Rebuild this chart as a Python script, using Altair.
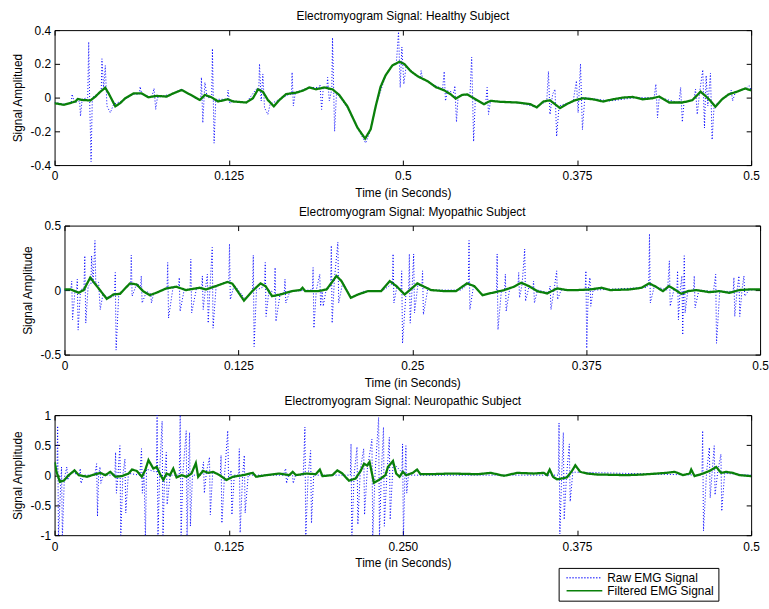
import altair as alt
import pandas as pd

FONT = "Liberation Sans"
RAW = "Raw EMG Signal"
FILT = "Filtered EMG Signal"

x_ticks = [0, 0.125, 0.25, 0.375, 0.5]

# ---------------- Panel 1: healthy subject ----------------
p1_filtered = [
    (0.000, -0.033), (0.0067, -0.043), (0.0150, -0.023), (0.0167, -0.008), (0.0198, -0.014),
    (0.0257, -0.017), (0.0293, 0.006), (0.0329, 0.035), (0.0364, 0.058), (0.0388, 0.025),
    (0.0436, -0.052), (0.0471, -0.033), (0.0507, -0.004), (0.0567, 0.025), (0.0626, 0.025),
    (0.0674, 0.002), (0.0733, 0.010), (0.0805, 0.006), (0.0852, 0.025), (0.0912, 0.045),
    (0.0971, 0.019), (0.1043, -0.014), (0.1079, 0.016), (0.1126, 0.002), (0.1174, -0.023),
    (0.1245, -0.010), (0.1281, -0.023), (0.1376, -0.029), (0.1424, -0.004), (0.1460, 0.049),
    (0.1495, 0.035), (0.1531, -0.014), (0.1574, -0.052), (0.1614, -0.014), (0.1662, 0.021),
    (0.1733, 0.029), (0.1781, 0.041), (0.1829, 0.060), (0.1876, 0.049), (0.1936, 0.060),
    (0.1995, 0.049), (0.2043, 0.016), (0.2102, -0.052), (0.2174, -0.178), (0.2229, -0.243),
    (0.2269, -0.188), (0.2305, -0.052), (0.2340, 0.064), (0.2376, 0.132), (0.2424, 0.190),
    (0.2476, 0.213), (0.2512, 0.198), (0.2559, 0.155), (0.2607, 0.126), (0.2678, 0.097),
    (0.2737, 0.062), (0.2797, 0.043), (0.2844, 0.019), (0.2880, -0.006), (0.2927, 0.016),
    (0.2963, 0.019), (0.3010, -0.004), (0.3082, -0.039), (0.3129, -0.019), (0.3200, -0.025),
    (0.3319, -0.029), (0.3414, -0.039), (0.3461, -0.058), (0.3509, -0.023), (0.3556, -0.016),
    (0.3628, -0.062), (0.3675, -0.039), (0.3735, -0.016), (0.3794, -0.004), (0.3865, -0.010),
    (0.3936, -0.023), (0.4008, -0.010), (0.4079, 0.000), (0.4150, 0.004), (0.4221, -0.010),
    (0.4292, -0.004), (0.4340, 0.006), (0.4411, -0.029), (0.4506, -0.029), (0.4577, -0.016),
    (0.4637, 0.035), (0.4672, 0.010), (0.4708, -0.019), (0.4743, -0.054), (0.4791, -0.010),
    (0.4838, 0.019), (0.4898, 0.035), (0.4957, 0.054), (0.5000, 0.043),
]

p1_raw = [
    (0.000, -0.03), (0.009, -0.04), (0.0120, -0.03), (0.0126, 0.02), (0.0143, -0.03),
    (0.0180, -0.02), (0.0186, -0.11), (0.0198, -0.01), (0.0238, 0.0), (0.0245, 0.33),
    (0.0252, -0.02), (0.0262, -0.38), (0.0271, 0.0), (0.0305, 0.02), (0.0335, 0.04),
    (0.034, 0.23), (0.0352, 0.05), (0.0364, 0.19), (0.0376, -0.05), (0.040, -0.09),
    (0.0424, -0.04), (0.0483, -0.02), (0.0567, 0.02), (0.0609, 0.02), (0.0614, 0.065),
    (0.0626, 0.02), (0.0697, 0.0), (0.0714, 0.055), (0.0726, -0.07), (0.0738, 0.0),
    (0.0852, 0.025), (0.0912, 0.05), (0.1019, -0.01), (0.1049, -0.01), (0.1054, 0.12),
    (0.1064, -0.15), (0.1079, 0.09), (0.1095, 0.0), (0.1128, 0.0), (0.1133, 0.29),
    (0.1145, -0.27), (0.1157, -0.01), (0.1240, -0.01), (0.1245, 0.045), (0.1257, -0.035),
    (0.1281, -0.02), (0.1376, -0.03), (0.1447, 0.05), (0.1466, 0.05), (0.1471, 0.2),
    (0.1483, -0.02), (0.1495, 0.14), (0.1507, -0.06), (0.1531, -0.1), (0.1547, -0.04),
    (0.1614, -0.01), (0.1685, 0.02), (0.1700, 0.02), (0.1705, 0.15), (0.1714, -0.05),
    (0.1728, 0.03), (0.1829, 0.06), (0.1900, 0.06), (0.1905, 0.075), (0.1917, -0.07),
    (0.1929, 0.06), (0.1955, 0.06), (0.1960, 0.12), (0.1972, -0.02), (0.1990, 0.05),
    (0.1995, 0.355), (0.2010, -0.2), (0.2024, 0.03), (0.2102, -0.06), (0.2174, -0.18),
    (0.2233, -0.27), (0.2269, -0.19), (0.2305, -0.05), (0.2376, 0.13), (0.2424, 0.19),
    (0.2453, 0.2), (0.2469, 0.39), (0.2481, 0.06), (0.2493, 0.3), (0.2507, 0.08),
    (0.2524, 0.19), (0.2583, 0.14), (0.2626, 0.12), (0.2631, 0.16), (0.2642, 0.11),
    (0.2785, 0.05), (0.2797, 0.155), (0.2806, -0.02), (0.2821, 0.04), (0.2868, 0.03),
    (0.2873, 0.07), (0.2885, -0.145), (0.2897, 0.01), (0.2982, 0.02), (0.2994, 0.24),
    (0.3008, -0.26), (0.3020, -0.01), (0.3094, -0.04), (0.3105, 0.06), (0.3115, -0.1),
    (0.3129, -0.02), (0.3319, -0.03), (0.3461, -0.055), (0.3533, -0.02), (0.3545, 0.155),
    (0.3556, -0.1), (0.3575, 0.02), (0.3592, 0.05), (0.3604, -0.23), (0.3621, -0.05),
    (0.3723, -0.02), (0.3746, 0.1), (0.3758, -0.09), (0.3775, 0.2), (0.3789, -0.19),
    (0.3806, 0.0), (0.3984, -0.02), (0.4174, 0.0), (0.4304, 0.0), (0.4316, 0.08),
    (0.4328, -0.12), (0.4340, 0.0), (0.4482, -0.03), (0.4494, 0.06), (0.4506, -0.145),
    (0.4518, -0.03), (0.4589, -0.01), (0.4601, 0.05), (0.4613, -0.1), (0.4630, 0.03),
    (0.4653, 0.165), (0.4665, -0.18), (0.4677, 0.13), (0.4689, -0.05), (0.4708, 0.145),
    (0.4720, -0.25), (0.4734, -0.05), (0.4791, -0.01), (0.4852, 0.02), (0.4857, 0.045),
    (0.4867, -0.02), (0.4886, 0.03), (0.4957, 0.05), (0.4986, 0.07), (0.5, 0.045),
]

# ---------------- Panel 2: myopathic subject ----------------
p2_filtered = [
    (0.0, 0.005), (0.0043, 0.005), (0.0102, -0.02), (0.0138, 0.0), (0.0185, 0.097),
    (0.0233, 0.03), (0.0304, -0.068), (0.0352, -0.034), (0.0399, -0.029), (0.047, 0.052),
    (0.0518, 0.044), (0.0565, -0.008), (0.0613, -0.039), (0.066, -0.021), (0.0732, 0.013),
    (0.0803, 0.026), (0.0874, 0.0), (0.0969, 0.018), (0.1017, 0.005), (0.1088, 0.031),
    (0.1171, 0.063), (0.1207, 0.05), (0.129, -0.081), (0.135, -0.008), (0.1409, 0.052),
    (0.1445, 0.031), (0.1492, -0.047), (0.1552, -0.034), (0.1635, -0.008), (0.1694, 0.0),
    (0.1711, 0.018), (0.173, -0.008), (0.1825, -0.008), (0.1884, 0.005), (0.192, 0.057),
    (0.1955, 0.11), (0.1991, 0.07), (0.2058, -0.06), (0.211, -0.034), (0.2181, -0.008),
    (0.2276, -0.008), (0.2338, 0.07), (0.2386, 0.031), (0.2445, -0.034), (0.2493, 0.01),
    (0.2536, 0.052), (0.2576, 0.031), (0.2636, 0.0), (0.2731, -0.008), (0.2814, -0.008),
    (0.2893, 0.052), (0.2945, 0.031), (0.3005, -0.039), (0.3076, -0.021), (0.316, 0.0),
    (0.3231, 0.026), (0.3283, 0.057), (0.3338, 0.031), (0.3398, -0.008), (0.3469, -0.026),
    (0.3541, 0.013), (0.3612, 0.0), (0.3683, 0.0), (0.3779, 0.005), (0.3862, 0.018),
    (0.3921, 0.0), (0.4064, 0.005), (0.4148, 0.018), (0.4202, 0.052), (0.4243, 0.031),
    (0.4302, -0.008), (0.4345, 0.031), (0.4386, 0.005), (0.4433, -0.029), (0.4481, -0.008),
    (0.4541, 0.0), (0.4636, -0.016), (0.4707, -0.008), (0.4779, -0.021), (0.485, 0.0),
    (0.4921, 0.005), (0.5, 0.005),
]

p2_raw = [
    (0.0, 0.0), (0.0045, 0.0), (0.0052, 0.07), (0.0058, -0.23), (0.0075, -0.01),
    (0.0087, 0.0), (0.0092, 0.084), (0.0098, -0.31), (0.0115, 0.0), (0.0140, 0.02),
    (0.0146, 0.266), (0.0153, -0.256), (0.017, 0.03), (0.0190, 0.05), (0.0195, 0.266),
    (0.0205, 0.05), (0.0219, 0.384), (0.0225, 0.044), (0.0245, 0.06), (0.0257, -0.151),
    (0.0275, -0.04), (0.033, -0.06), (0.0360, -0.04), (0.0365, 0.136), (0.0371, -0.465),
    (0.039, -0.03), (0.0455, 0.03), (0.0475, 0.04), (0.048, 0.271), (0.0486, -0.047),
    (0.052, 0.05), (0.0547, 0.03), (0.0552, 0.11), (0.0558, -0.1), (0.059, -0.01),
    (0.0620, -0.03), (0.0625, -0.1), (0.064, -0.03), (0.072, 0.01), (0.0737, 0.01),
    (0.0742, 0.214), (0.0748, -0.217), (0.078, 0.02), (0.0820, 0.02), (0.0825, 0.097),
    (0.0831, -0.164), (0.086, 0.0), (0.0903, 0.01), (0.0908, 0.24), (0.0914, -0.177),
    (0.095, 0.02), (0.0986, 0.01), (0.0991, 0.11), (0.0997, -0.151), (0.1012, 0.0),
    (0.1027, 0.123), (0.1033, -0.256), (0.1045, 0.0), (0.1062, 0.331), (0.1068, -0.295),
    (0.109, 0.03), (0.115, 0.06), (0.1181, 0.06), (0.1186, 0.358), (0.1192, -0.073),
    (0.122, 0.04), (0.13, -0.07), (0.1352, -0.01), (0.1357, 0.271), (0.1363, -0.438),
    (0.138, 0.0), (0.1438, 0.03), (0.1443, 0.214), (0.1449, -0.204), (0.147, 0.0),
    (0.1509, -0.02), (0.1514, 0.175), (0.152, -0.243), (0.155, -0.03), (0.1580, -0.02),
    (0.1585, 0.084), (0.1591, -0.1), (0.162, -0.01), (0.176, 0.0), (0.1782, 0.0),
    (0.1787, 0.175), (0.1793, -0.295), (0.181, 0.0), (0.1835, 0.123), (0.1841, -0.125),
    (0.1852, 0.0), (0.186, -0.125), (0.188, 0.0), (0.1913, 0.03), (0.1918, 0.345),
    (0.1924, -0.256), (0.194, 0.08), (0.1965, 0.371), (0.1971, -0.1), (0.2, 0.06),
    (0.206, -0.06), (0.215, -0.01), (0.228, -0.01), (0.2357, 0.05), (0.2362, 0.28),
    (0.2368, -0.1), (0.239, 0.03), (0.2419, 0.0), (0.2424, 0.149), (0.243, -0.412),
    (0.2455, -0.02), (0.2474, 0.0), (0.2479, 0.28), (0.2485, -0.256), (0.2498, 0.0),
    (0.251, 0.28), (0.2516, -0.177), (0.254, 0.04), (0.2569, 0.03), (0.2574, 0.149),
    (0.258, -0.19), (0.261, 0.0), (0.285, 0.0), (0.2903, 0.05), (0.2908, 0.384),
    (0.2914, -0.151), (0.294, 0.03), (0.301, -0.04), (0.3105, -0.01), (0.311, 0.28),
    (0.3116, -0.308), (0.314, -0.01), (0.3164, 0.0), (0.3169, 0.123), (0.3175, -0.164),
    (0.32, 0.01), (0.3260, 0.04), (0.3265, 0.136), (0.3271, -0.06), (0.329, 0.05),
    (0.3308, 0.318), (0.3314, -0.086), (0.334, 0.03), (0.3367, 0.01), (0.3372, 0.07),
    (0.3378, -0.1), (0.34, 0.0), (0.348, -0.02), (0.3491, 0.031), (0.3497, -0.151),
    (0.352, 0.01), (0.3538, 0.149), (0.3544, -0.073), (0.357, 0.0), (0.372, 0.0),
    (0.3743, 0.0), (0.3748, 0.149), (0.3754, -0.452), (0.3765, 0.0), (0.3777, 0.097),
    (0.3783, -0.125), (0.38, 0.0), (0.418, 0.02), (0.4200, 0.04), (0.4205, 0.436),
    (0.4211, -0.1), (0.424, 0.03), (0.4335, 0.0), (0.4348, 0.227), (0.4354, -0.125),
    (0.438, 0.0), (0.4402, 0.0), (0.4407, 0.149), (0.4413, -0.23), (0.4425, -0.01),
    (0.4438, 0.11), (0.4444, -0.347), (0.445, -0.01), (0.4455, 0.266), (0.4461, -0.177),
    (0.448, -0.01), (0.4522, 0.0), (0.4527, 0.11), (0.4533, -0.138), (0.456, 0.0),
    (0.4665, -0.01), (0.4681, 0.123), (0.4687, -0.412), (0.471, -0.01), (0.4807, -0.01),
    (0.4812, 0.097), (0.4818, -0.204), (0.4835, 0.0), (0.4848, 0.11), (0.4854, -0.204),
    (0.487, 0.0), (0.4884, 0.11), (0.489, -0.047), (0.492, 0.0), (0.5, 0.005),
]

# ---------------- Panel 3: neuropathic subject ----------------
p3_filtered = [
    (0.0, 0.22), (0.0014, 0.055), (0.0038, -0.11), (0.0067, -0.09), (0.0102, 0.0),
    (0.0143, 0.08), (0.0174, 0.0), (0.0233, -0.027), (0.0293, 0.016), (0.0328, 0.038),
    (0.0364, 0.0), (0.04, 0.055), (0.0436, -0.027), (0.0483, -0.016), (0.0531, 0.027),
    (0.0555, 0.093), (0.059, 0.071), (0.0626, -0.027), (0.065, 0.08), (0.0674, 0.25),
    (0.0709, 0.11), (0.0733, 0.137), (0.0757, 0.016), (0.0781, -0.08), (0.0804, 0.027),
    (0.0828, 0.0), (0.0852, 0.11), (0.0876, -0.038), (0.0912, 0.0), (0.0947, -0.027),
    (0.0983, 0.027), (0.1014, 0.2), (0.1031, -0.027), (0.1066, 0.071), (0.1102, 0.038),
    (0.1138, 0.055), (0.1185, 0.0), (0.1233, -0.08), (0.128, -0.027), (0.1352, 0.0),
    (0.1423, 0.038), (0.1447, -0.027), (0.1518, 0.0), (0.1614, 0.027), (0.1685, 0.0),
    (0.1709, 0.055), (0.1733, 0.0), (0.1804, 0.027), (0.1875, 0.016), (0.1904, 0.093),
    (0.1923, -0.016), (0.1994, 0.0), (0.203, 0.08), (0.2066, 0.027), (0.2113, -0.093),
    (0.2161, -0.055), (0.2197, 0.071), (0.2221, 0.19), (0.2244, 0.16), (0.2261, 0.22),
    (0.2292, -0.126), (0.2328, -0.08), (0.2375, 0.0), (0.2393, 0.136), (0.2429, 0.235),
    (0.2452, 0.027), (0.2476, -0.027), (0.25, 0.055), (0.2524, 0.0), (0.2571, 0.038),
    (0.2602, 0.093), (0.2626, 0.016), (0.2702, 0.016), (0.2845, 0.027), (0.3036, 0.016),
    (0.3131, 0.038), (0.3226, -0.011), (0.3321, 0.038), (0.344, 0.027), (0.3512, 0.038),
    (0.3535, 0.0), (0.3554, 0.093), (0.3578, -0.027), (0.3607, -0.071), (0.3678, -0.038),
    (0.3714, 0.071), (0.3738, 0.164), (0.3773, 0.055), (0.3821, 0.027), (0.3892, 0.011),
    (0.4107, 0.0), (0.4226, 0.011), (0.4392, 0.038), (0.4452, 0.055), (0.4511, 0.0),
    (0.4559, 0.027), (0.457, 0.093), (0.4594, -0.016), (0.4654, 0.027), (0.4702, 0.071),
    (0.4749, 0.137), (0.4785, 0.038), (0.482, 0.055), (0.4868, 0.038), (0.4916, 0.0),
    (0.5, -0.016),
]

p3_raw = [
    (0.0, 0.2), (0.0018, 0.1), (0.0022, 0.82), (0.0028, -1.05), (0.0045, -0.1),
    (0.005, 0.137), (0.0056, -1.05), (0.007, -0.05), (0.0088, 0.137), (0.0094, -0.08),
    (0.012, 0.05), (0.0179, 0.0), (0.0184, 0.11), (0.019, -0.137), (0.021, 0.0),
    (0.0288, 0.0), (0.0302, 0.19), (0.0308, -0.685), (0.0316, 0.0), (0.0326, 0.137),
    (0.0332, -0.137), (0.035, 0.0), (0.0433, 0.0), (0.0438, 0.38), (0.0444, -0.3),
    (0.0455, 0.0), (0.0469, 0.49), (0.0475, -1.05), (0.049, 0.0), (0.0505, 0.27),
    (0.0511, -0.63), (0.053, 0.03), (0.0612, 0.0), (0.0624, 0.44), (0.063, -0.3),
    (0.0642, 0.05), (0.0652, -1.05), (0.066, 0.1), (0.0731, 0.05), (0.0736, 1.05),
    (0.0742, -1.05), (0.0755, 0.1), (0.0772, 0.9), (0.0778, -1.05), (0.079, 0.0),
    (0.0802, 0.38), (0.0808, -0.49), (0.083, 0.0), (0.0895, 0.0), (0.0902, 1.05),
    (0.0908, -1.05), (0.092, 0.0), (0.0945, 0.74), (0.0951, -1.05), (0.096, 0.0),
    (0.0969, 0.71), (0.0975, -0.85), (0.099, 0.0), (0.1055, 0.0), (0.1069, 0.22),
    (0.1075, -0.3), (0.109, 0.05), (0.1112, 0.3), (0.1118, -0.66), (0.1135, 0.05),
    (0.1190, 0.0), (0.1195, 0.33), (0.1201, -0.8), (0.122, 0.0), (0.1243, 0.74),
    (0.1249, -0.08), (0.1258, 0.0), (0.1267, 0.08), (0.1273, -0.66), (0.129, 0.0),
    (0.1321, 0.0), (0.1326, 0.44), (0.1332, -0.96), (0.135, 0.0), (0.1362, 0.33),
    (0.1368, -0.63), (0.139, 0.0), (0.164, 0.0), (0.1659, 0.11), (0.1665, -0.137),
    (0.168, 0.0), (0.1707, 0.04), (0.1713, -0.137), (0.173, 0.0), (0.1785, 0.0),
    (0.1797, 0.8), (0.1803, -1.05), (0.182, 0.0), (0.1838, 0.41), (0.1844, -0.8),
    (0.186, 0.0), (0.21, 0.0), (0.2123, 0.0), (0.2128, 0.52), (0.2134, -1.05),
    (0.215, 0.0), (0.2171, 0.47), (0.2177, -0.82), (0.2195, 0.1), (0.2219, 0.44),
    (0.2225, -0.66), (0.2245, 0.1), (0.2278, 0.6), (0.2284, -1.05), (0.23, 0.0),
    (0.2326, 0.96), (0.2332, -1.05), (0.2345, 0.0), (0.2361, 0.8), (0.2367, -0.85),
    (0.2385, 0.0), (0.2403, 0.63), (0.2409, -0.74), (0.243, 0.2), (0.2493, 0.05),
    (0.2498, 0.52), (0.2504, -1.05), (0.2515, 0.0), (0.2522, 0.49), (0.2528, -0.3),
    (0.254, 0.0), (0.36, 0.0), (0.3616, 0.0), (0.3621, 0.87), (0.3627, -0.98),
    (0.364, 0.0), (0.3652, 0.71), (0.3658, -0.74), (0.3675, 0.0), (0.3695, 0.52),
    (0.3701, -0.44), (0.372, 0.05), (0.463, 0.0), (0.4647, 0.0), (0.4652, 0.74),
    (0.4658, -0.93), (0.468, 0.05), (0.47, 0.46), (0.4706, -0.38), (0.472, 0.05),
    (0.4735, 0.49), (0.4741, -0.33), (0.476, 0.05), (0.4783, 0.35), (0.4789, -0.6),
    (0.481, 0.03), (0.5, 0.0),
]


def frame(pairs, name):
    return pd.DataFrame({
        "t": [p[0] for p in pairs],
        "v": [p[1] for p in pairs],
        "series": name,
        "i": list(range(len(pairs))),
    })


color_scale = alt.Scale(domain=[RAW, FILT], range=["#0000ff", "#0a800a"])
dash_scale = alt.Scale(domain=[RAW, FILT], range=[[1, 2], [1, 0]])
legend = alt.Legend(
    title=None, orient="none", legendX=508, legendY=542, direction="vertical",
    symbolType="M-4,0H4", symbolSize=81, symbolStrokeWidth=1.5, symbolOffset=16,
    strokeColor="black", fillColor="white", padding=4, rowPadding=1,
    labelFont=FONT, labelFontSize=12, labelColor="black", labelOffset=17,
)
IN_TICK = {"expr": "-5"}


def panel(raw, filt, title, ytitle, ydom, yvals, xlabel_expr, width, height,
          xrange=None, yoffset=0, dx=0):
    if xrange is None:
        xs = alt.Scale(domain=[0, 0.5], nice=False, zero=False)
    else:
        xs = alt.Scale(domain=[0, 0.5], nice=False, zero=False, range=xrange)
    ys = alt.Scale(domain=ydom, nice=False, zero=False)
    ax_bottom = alt.Axis(orient="bottom", values=x_ticks, labelExpr=xlabel_expr,
                         title="Time (in Seconds)", tickSize=IN_TICK, labelPadding=11,
                         titlePadding=6, labelFlush=False, labelOverlap=False)
    ax_left = alt.Axis(orient="left", values=yvals, labelExpr="'' + datum.value",
                       title=ytitle, tickSize=IN_TICK, labelPadding=9, titlePadding=6,
                       labelFlush=False, labelOverlap=False, offset=yoffset)
    ax_top = alt.Axis(orient="top", values=x_ticks, labels=False, title=None,
                      tickSize=IN_TICK)
    ax_right = alt.Axis(orient="right", values=yvals, labels=False, title=None,
                        tickSize=IN_TICK)
    col = alt.Color("series:N", scale=color_scale, legend=legend)
    dash = alt.StrokeDash("series:N", scale=dash_scale, legend=legend)
    raw_layer = alt.Chart(frame(raw, RAW)).mark_line(strokeWidth=1, clip=True).encode(
        x=alt.X("t:Q", scale=xs, axis=ax_bottom),
        y=alt.Y("v:Q", scale=ys, axis=ax_left),
        color=col, strokeDash=dash, order=alt.Order("i:Q"),
    )
    filt_layer = alt.Chart(frame(filt, FILT)).mark_line(strokeWidth=2.3, clip=True).encode(
        x=alt.X("t:Q", scale=xs, axis=ax_top),
        y=alt.Y("v:Q", scale=ys, axis=ax_right),
        color=col, strokeDash=dash, order=alt.Order("i:Q"),
    )
    return alt.layer(raw_layer, filt_layer).resolve_axis(
        x="independent", y="independent"
    ).properties(
        width=width, height=height,
        title=alt.TitleParams(title, font=FONT, fontSize=12, fontWeight="normal",
                              color="black", offset=1, dx=dx),
    )


c1 = panel(p1_raw, p1_filtered, "Electromyogram Signal: Healthy Subject",
           "Signal Amplitued", [-0.4, 0.4], [-0.4, -0.2, 0, 0.2, 0.4],
           "datum.value == 0.25 ? '0.5' : '' + datum.value", 702, 136)
c2 = panel(p2_raw, p2_filtered, "Electromyogram Signal: Myopathic Subject",
           "Signal Amplitude", [-0.5, 0.5], [-0.5, 0, 0.5],
           "'' + datum.value", 711, 130, xrange=[10, 711], yoffset=-10, dx=5)
c3 = panel(p3_raw, p3_filtered, "Electromyogram Signal: Neuropathic Subject",
           "Signal Amplitude", [-1, 1], [-1, -0.5, 0, 0.5, 1],
           "datum.value == 0.25 ? '0.250' : '' + datum.value", 702, 121)

chart = alt.vconcat(c1, c2, c3, spacing=61, bounds="flush").properties(
    padding={"left": 11, "top": 8, "right": 0, "bottom": 0},
    background="white",
).configure_view(stroke=None).configure_axis(
    grid=False, domainColor="black", tickColor="black", labelColor="black",
    titleColor="black", labelFont=FONT, titleFont=FONT, labelFontSize=12,
    titleFontSize=12, titleFontWeight="normal", domainWidth=1, tickWidth=1,
)

chart.save("out.html", embed_options={"renderer": "svg", "actions": False})
